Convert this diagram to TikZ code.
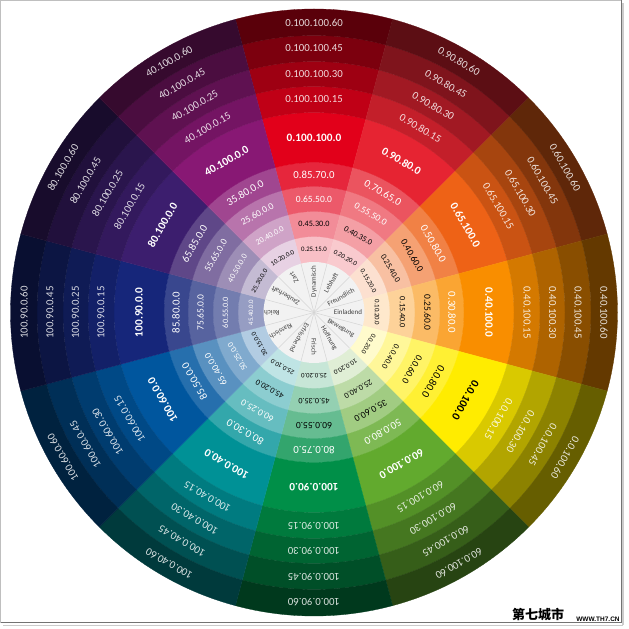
\documentclass[tikz,border=0pt]{standalone}
\usepackage{fontspec}
\setmainfont{Carlito}
\newfontfamily\cjkfont{Noto Sans CJK SC}
\newfontfamily\wmfont{Liberation Sans}
\definecolor{cR}{RGB}{226,0,26}
\definecolor{cB}{RGB}{230,36,50}
\definecolor{cC}{RGB}{238,98,22}
\definecolor{cD}{RGB}{249,142,0}
\definecolor{cE}{RGB}{255,236,0}
\definecolor{cF}{RGB}{98,170,46}
\definecolor{cG}{RGB}{0,143,72}
\definecolor{cH}{RGB}{0,145,150}
\definecolor{cI}{RGB}{0,86,158}
\definecolor{cJ}{RGB}{22,38,122}
\definecolor{cK}{RGB}{60,30,110}
\definecolor{cL}{RGB}{136,24,116}
\definecolor{discgrey}{RGB}{242,242,242}
\definecolor{discline}{RGB}{212,212,212}
\tikzset{
  lab/.style={inner sep=0pt},
  ringA/.style={lab, font=\fontsize{6.8}{7}\selectfont},
  ringB/.style={lab, font=\fontsize{8.2}{9}\selectfont},
  ringC/.style={lab, font=\fontsize{9.5}{10}\selectfont},
  ringD/.style={lab, font=\fontsize{10.8}{11}\selectfont},
  boldring/.style={lab, font=\fontsize{11.3}{12}\selectfont\bfseries},
  outerring/.style={lab, font=\fontsize{10.8}{11}\selectfont, text=white, text opacity=0.85},
  wordlab/.style={lab, font=\fontsize{7}{8}\selectfont, text=black!75},
}
\begin{document}
\begin{tikzpicture}[x=1pt,y=1pt]
\useasboundingbox (0,0) rectangle (629,629);
\fill[white] (0,0) rectangle (629,629);
\begin{scope}[shift={(314,316.5)}]
% coloured annular sectors
\foreach \a/\cl/\ta/\tb/\tc/\td in {90/cR/85/65/45/25, 60/cB/78/61/44/24, 30/cC/80/60/40/20, 0/cD/80/60/40/20, -30/cE/80/60/40/20, -60/cF/82/60/42/20, -90/cG/80/60/42/22, -120/cH/80/60/45/25, -150/cI/85/65/50/30, -180/cJ/85/72/60/45, -210/cK/82/65/50/30, -240/cL/80/60/40/20}{
  \foreach \ri/\ro/\col in {50/76/\cl!\td!white, 76/101/\cl!\tc!white, 101/126/\cl!\tb!white, 126/150/\cl!\ta!white, 150/200/\cl, 200/226/\cl!85!black, 226/251/\cl!70!black, 251/277/\cl!55!black, 277/303.5/\cl!40!black}{
    \filldraw[fill=\col, draw=\col, line width=0.3pt] (\a-15:\ro pt) arc[start angle=\a-15, end angle=\a+15, radius=\ro pt] -- (\a+15:\ri pt) arc[start angle=\a+15, end angle=\a-15, radius=\ri pt] -- cycle;
  }
}
% grey centre disc
\fill[discgrey] (0,0) circle (50.5pt);
\foreach \a in {15,45,...,345}{
  \draw[discline, line width=0.5pt] (0,0) -- (\a:50pt);
}
% labels
\foreach \a/\w/\wr/\ia/\ib/\ic/\id/\ca/\cb/\cc/\cd/\bl/\bc/\oa/\ob/\oc/\od [count=\k] in {
 90/Dynamisch/31/0.25.15.0/0.45.30.0/0.65.50.0/0.85.70.0/black/black/white/white/0.100.100.0/white/0.100.100.15/0.100.100.30/0.100.100.45/0.100.100.60,
 60/Lebhaft/34/0.20.20.0/0.40.35.0/0.55.50.0/0.70.65.0/black/black/white/white/0.90.80.0/white/0.90.80.15/0.90.80.30/0.90.80.45/0.90.80.60,
 30/Freundlich/31/0.15.20.0/0.25.40.0/0.40.60.0/0.50.80.0/black/black/black/white/0.65.100.0/white/0.65.100.15/0.65.100.30/0.60.100.45/0.60.100.60,
 0/Einladend/34/0.10.20.0/0.15.40.0/0.25.60.0/0.30.80.0/black/black/black/white/0.40.100.0/white/0.40.100.15/0.40.100.30/0.40.100.45/0.40.100.60,
 -30/Bewegung/31/0.0.20.0/0.0.40.0/0.0.60.0/0.0.80.0/black/black/black/black/0.0.100.0/black/0.0.100.15/0.0.100.30/0.0.100.45/0.0.100.60,
 -60/Hoffnung/30/10.0.20.0/25.0.40.0/35.0.60.0/50.0.80.0/black/black/black/white/60.0.100.0/white/60.0.100.15/60.0.100.30/60.0.100.45/60.0.100.60,
 -90/Frisch/34/25.0.20.0/45.0.35.0/60.0.55.0/80.0.75.0/black/black/black/white/100.0.90.0/white/100.0.90.15/100.0.90.30/100.0.90.45/100.0.90.60,
 -120/Erfrischend/29/25.0.10.0/45.0.20.0/60.0.25.0/80.0.30.0/black/black/white/white/100.0.40.0/white/100.0.40.15/100.0.40.30/100.0.40.45/100.0.40.60,
 -150/Klassisch/38/30.15.0.0/50.25.0.0/65.40.0.0/85.50.0.0/black/white/white/white/100.60.0.0/white/100.60.0.15/100.60.0.30/100.60.0.45/100.60.0.60,
 -180/Reich/42/45.40.0.0/60.55.0.0/75.65.0.0/85.80.0.0/white/white/white/white/100.90.0.0/white/100.90.0.15/100.90.0.25/100.90.0.45/100.90.0.60,
 -210/Zauberhaft/33/25.30.0.0/40.50.0.0/55.65.0.0/65.85.0.0/black/white/white/white/80.100.0.0/white/80.100.0.15/80.100.0.25/80.100.0.45/80.100.0.60,
 -240/Zart/40/10.20.0.0/20.40.0.0/25.60.0.0/35.80.0.0/black/white/white/white/40.100.0.0/white/40.100.0.15/40.100.0.25/40.100.0.45/40.100.0.60}{
  \node[wordlab, rotate=\a] (w\k) at (\a:\wr pt) {\w};
  \node[ringA, text=\ca, rotate=\a-90] (r\k-1) at (\a:63pt) {\ia};
  \node[ringB, text=\cb, rotate=\a-90] (r\k-2) at (\a:88.5pt) {\ib};
  \node[ringC, text=\cc, rotate=\a-90] (r\k-3) at (\a:113.5pt) {\ic};
  \node[ringD, text=\cd, rotate=\a-90] (r\k-4) at (\a:138pt) {\id};
  \node[boldring, text=\bc, rotate=\a-90] (r\k-5) at (\a:175pt) {\bl};
  \node[outerring, rotate=\a-90] (r\k-6) at (\a:213pt) {\oa};
  \node[outerring, rotate=\a-90] (r\k-7) at (\a:238.5pt) {\ob};
  \node[outerring, rotate=\a-90] (r\k-8) at (\a:264pt) {\oc};
  \node[outerring, rotate=\a-90] (r\k-9) at (\a:290pt) {\od};
}
\end{scope}
% screenshot frame
\draw[black!25, line width=0.8pt] (0.5,6) -- (0.5,628.5) -- (621,628.5);
\draw[black!55, line width=1pt] (621,628.5) -- (621,6) -- (0.5,6);
\draw[black!20, line width=1.5pt] (623,3.5) -- (623,626);
\draw[black!20, line width=1.5pt] (3,3.5) -- (623,3.5);
% watermark
\node[lab, font=\cjkfont\bfseries\fontsize{13}{13}\selectfont] (wm1) at (538,14) {第七城市};
\node[lab, font=\wmfont\bfseries\fontsize{6.5}{7}\selectfont] (wm2) at (598,10) {WWW.TH7.CN};
\end{tikzpicture}
\end{document}
